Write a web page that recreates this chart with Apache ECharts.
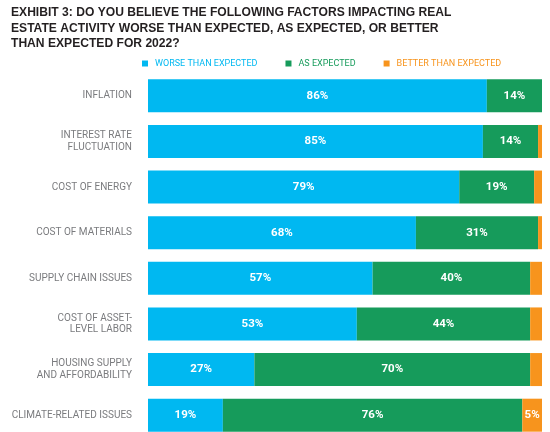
<!DOCTYPE html>
<html>
<head>
<meta charset="utf-8">
<script src="https://cdn.jsdelivr.net/npm/echarts@6/dist/echarts.min.js"></script>
<style>html,body{margin:0;padding:0;background:#fff}#c{width:550px;height:432px}</style>
</head>
<body>
<div id="c"></div>
<script>
const categories = ['INFLATION', 'INTEREST RATE\nFLUCTUATION', 'COST OF ENERGY', 'COST OF MATERIALS', 'SUPPLY CHAIN ISSUES', 'COST OF ASSET-\nLEVEL LABOR', 'HOUSING SUPPLY\nAND AFFORDABILITY', 'CLIMATE-RELATED ISSUES'];
const worse = [86, 85, 79, 68, 57, 53, 27, 19];
const asExpected = [14, 14, 19, 31, 40, 44, 70, 76];
const better = [0, 1, 2, 1, 3, 3, 3, 5];
const betterLabelShown = [false, false, false, false, false, false, false, true];
const seriesNames = ['WORSE THAN EXPECTED', 'AS EXPECTED', 'BETTER THAN EXPECTED'];
const colors = ['#00b8f1', '#169b5b', '#f7941d'];

const chart = echarts.init(document.getElementById('c'));
const labelBase = {
  show: true, position: 'inside', color: '#fff', fontFamily: 'Roboto',
  fontWeight: 'bold', fontSize: 11.5, formatter: p => p.value + '%'
};
chart.setOption({
  animation: false,
  title: {
    text: 'EXHIBIT 3: DO YOU BELIEVE THE FOLLOWING FACTORS IMPACTING REAL\nESTATE ACTIVITY WORSE THAN EXPECTED, AS EXPECTED, OR BETTER\nTHAN EXPECTED FOR 2022?',
    left: 6, top: 0,
    textStyle: { fontFamily: 'Liberation Sans', fontWeight: 'bold', fontSize: 12.1, lineHeight: 15.5, color: '#231f20' }
  },
  legend: {
    left: 137, top: 54, itemWidth: 6, itemHeight: 6, itemGap: 28, icon: 'rect',
    data: seriesNames.map((n, i) => ({ name: n, textStyle: { color: colors[i] } })),
    textStyle: { fontFamily: 'Roboto', fontSize: 9, padding: [0, 0, 0, 2] }
  },
  grid: { left: 148, right: 8, top: 73, height: 365, containLabel: false, outerBoundsMode: 'none' },
  xAxis: { type: 'value', min: 0, max: 100, show: false },
  yAxis: {
    type: 'category', data: categories, inverse: true,
    axisLine: { show: false }, axisTick: { show: false },
    axisLabel: { color: '#7a7b7e', fontFamily: 'Roboto', fontSize: 10, lineHeight: 11.5, margin: 16, align: 'right' }
  },
  series: [
    { name: seriesNames[0], type: 'bar', stack: 's', barWidth: 33, data: worse,
      itemStyle: { color: colors[0] }, label: labelBase },
    { name: seriesNames[1], type: 'bar', stack: 's', barWidth: 33, data: asExpected,
      itemStyle: { color: colors[1] }, label: labelBase },
    { name: seriesNames[2], type: 'bar', stack: 's', barWidth: 33,
      data: better.map((v, i) => ({ value: v, label: { show: betterLabelShown[i] } })),
      itemStyle: { color: colors[2] }, label: Object.assign({}, labelBase, { show: false }) }
  ]
});
</script>
</body>
</html>
